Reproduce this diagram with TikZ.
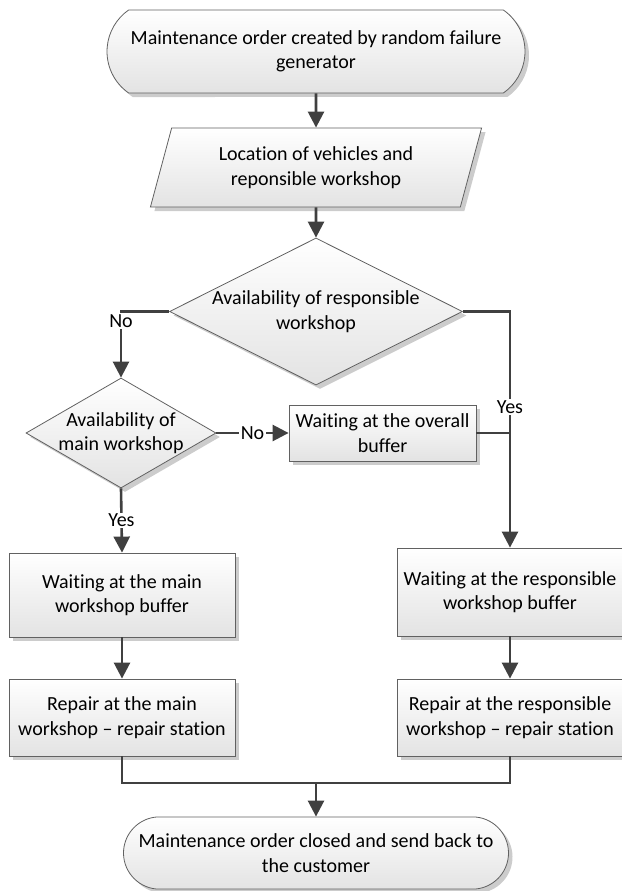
\documentclass[tikz,border=0pt]{standalone}
\usepackage{fontspec}
\setmainfont{Carlito}[Ligatures={NoCommon}]
\usetikzlibrary{shapes.geometric,shapes.misc,shadows,arrows.meta}
\begin{document}
\begin{tikzpicture}[x=1pt,y=-1pt,
  every node/.style={font=\fontsize{20}{24.4}\selectfont, inner sep=0pt},
  shp/.style={draw=black!62, line width=0.8pt, top color=white, bottom color=black!11,
    drop shadow={shadow xshift=4pt, shadow yshift=-4pt, fill=black!20, opacity=1}},
  proc/.style={shp, rectangle, align=center},
  term/.style={shp, rounded rectangle, align=center},
  dia/.style={shp, diamond},
  conn/.style={draw=black!75, line width=2.6pt},
  arr/.style={conn, -{Triangle[length=16pt,width=16pt]}},
  lbl/.style={fill=white, inner sep=1.5pt},
  txt/.style={align=center}]
\useasboundingbox (0,0) rectangle (621,891);

\node[term, minimum width=418pt, minimum height=83pt, rounded rectangle arc length=110] (start) at (316,51.5)
  {Maintenance order created by random failure\\generator};
\node[shp, trapezium, trapezium left angle=71, trapezium right angle=109, trapezium stretches=true,
  minimum width=332pt, minimum height=79pt, align=center] (loc) at (316,167.5)
  {Location of vehicles and\\reponsible workshop};
\node[dia, minimum width=293pt, minimum height=147pt] (d1) at (316,311.5) {};
\node[txt] (d1t) at (316,311.5) {Availability of responsible\\workshop};
\node[dia, minimum width=190pt, minimum height=110pt] (d2) at (121,433) {};
\node[txt] (d2t) at (121,433) {Availability of\\main workshop};
\node[proc, minimum width=187pt, minimum height=56pt] (ov) at (382.5,433) {Waiting at the overall\\buffer};
\node[proc, minimum width=226pt, minimum height=84pt] (lb1) at (122,595) {Waiting at the main\\workshop buffer};
\node[proc, minimum width=226pt, minimum height=77pt] (lb2) at (122,717.5) {Repair at the main\\workshop -- repair station};
\node[proc, minimum width=226pt, minimum height=88pt] (rb1) at (510,592) {Waiting at the responsible\\workshop buffer};
\node[proc, minimum width=226pt, minimum height=77pt] (rb2) at (510,717.5) {Repair at the responsible\\workshop -- repair station};
\node[term, minimum width=385pt, minimum height=72pt, rounded rectangle arc length=170] (end) at (316,853)
  {Maintenance order closed and send back to\\the customer};

\draw[arr] (start.south) -- (loc.north);
\draw[arr] (loc.south) -- (d1.north);
\draw[arr] (d1.west) -| (d2.north);
\node[lbl] (no1) at (121,321) {No};
\draw[arr] (d1.east) -| (rb1.north);
\node[lbl] (yes1) at (510,407) {Yes};
\draw[arr] (d2.east) -- node[lbl] (no2) {No} (ov.west);
\draw[conn] (ov.east) -- (ov.east -| rb1.north);
\draw[arr] (d2.south) -- node[lbl] (yes2) {Yes} (lb1.north);
\draw[arr] (lb1.south) -- (lb2.north);
\draw[arr] (rb1.south) -- (rb2.north);
\coordinate (m) at (316,783);
\draw[conn] (lb2.south) |- (m) -| (rb2.south);
\draw[arr] (m) -- (end.north);
\end{tikzpicture}
\end{document}
